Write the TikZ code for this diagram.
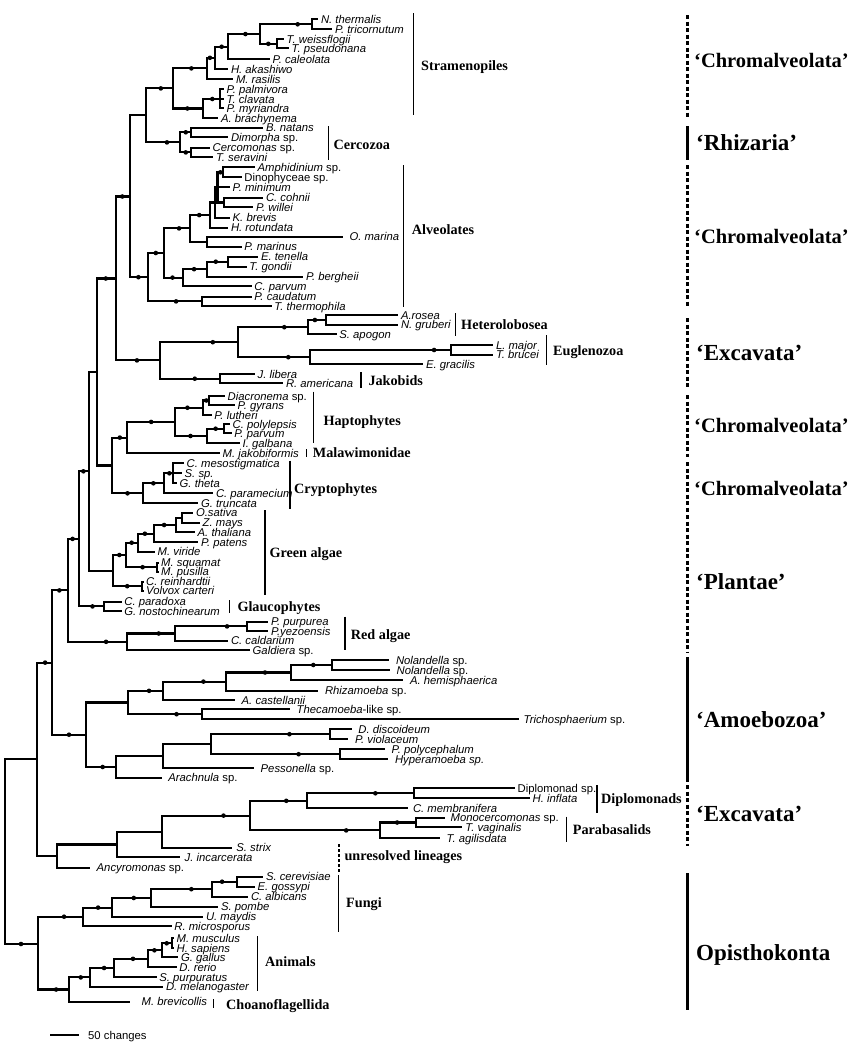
\documentclass[tikz,border=0pt]{standalone}
\usepackage{fontspec}
\setmainfont{Liberation Serif}
\setsansfont{Liberation Sans}
\newcommand\Ti[1]{\textit{#1}}
\newcommand\Lf[5][0]{\coordinate (#2) at (#3,#4); \node[sp,xshift=#1pt] (#2-t) at (#2) {#5};}
\newcommand\Nd[3]{\coordinate (#1) at (#2,#3);}
\newcommand\Ed[2]{\draw[br] (#1) |- (#2);}
\newcommand\Ep[3]{\draw[br] (#1) |- (#2) node[dot,pos=#3]{};}
\begin{document}
\begin{tikzpicture}[x=1pt,y=-1pt,
 br/.style={line width=2.1pt},
 dot/.style={circle,fill=black,inner sep=0pt,minimum size=4.6pt},
 sp/.style={anchor=base west,inner sep=0pt,xshift=2.5pt,yshift=-4pt,font=\sffamily\fontsize{11.3}{12}\selectfont},
 grp/.style={anchor=base west,inner sep=0pt,yshift=-4.8pt,font=\rmfamily\bfseries\fontsize{14.2}{15}\selectfont},
 gbar/.style={line width=1.3pt},
 big/.style={anchor=base west,inner sep=0pt,yshift=-7.5pt,font=\rmfamily\bfseries\fontsize{23}{25}\selectfont},
 bigc/.style={anchor=base west,inner sep=0pt,yshift=-7pt,font=\rmfamily\bfseries\fontsize{20.5}{22}\selectfont},
 rsolid/.style={line width=3pt},
 rdot/.style={line width=3pt,dash pattern=on 4pt off 2.5pt},
 udot/.style={line width=1.4pt,dash pattern=on 3pt off 2pt}]
\useasboundingbox (0,0) rectangle (861,1050);
% ---------- internal nodes ----------
\Nd{R}{5}{851}
\Nd{N1}{36.7}{759.4} \Nd{F0}{38.3}{944}
\Nd{A0}{52.3}{662.6} \Nd{Ex}{56.7}{856.1}
\Nd{P0}{68.3}{590.4} \Nd{Am}{85.7}{734.7}
\Nd{P1}{79}{538.9} \Nd{RA}{127.3}{641.8}
\Nd{P2}{89}{471.3} \Nd{GL}{104}{606.4}
\Nd{P3}{96.7}{372} \Nd{GA}{112.7}{570.6}
\Nd{P4}{115.7}{278.5} \Nd{HC}{111.7}{465.5}
\Nd{P5}{130}{196.5} \Nd{X1}{160}{360.4}
\Nd{SC}{145.7}{115.4} \Nd{AL}{148.3}{277.2}
% Stramenopiles / Cercozoa
\Nd{ST}{172.7}{88.4} \Nd{S1}{207.3}{68.4} \Nd{S3}{215}{57.8} \Nd{S4}{228.3}{46.75}
\Nd{S5}{260}{34.05} \Nd{S6}{312.3}{24.3} \Nd{S7}{276.7}{43.8} \Nd{S2}{203.3}{108.5} \Nd{S8}{220}{99}
\Nd{CE}{180}{142.4} \Nd{C1}{190.7}{132.3} \Nd{C2}{190.7}{152.4}
% Alveolates
\Nd{A1}{164}{253} \Nd{A2}{190}{228.4} \Nd{A3}{206.7}{241.7} \Nd{D0}{210}{215.1} \Nd{D1}{215}{202.5}
\Nd{D2}{217.5}{187.3} \Nd{AD}{223.3}{172.3} \Nd{CP}{224.3}{202.5} \Nd{A5}{183.3}{277.6}
\Nd{A6}{206.7}{269.2} \Nd{A7}{228.3}{261.7} \Nd{A9}{201.7}{301.4}
% Excavata 1
\Nd{X2}{237.7}{342.2} \Nd{HT}{308.3}{327.2} \Nd{HT1}{325.7}{320} \Nd{EU}{310}{357.2} \Nd{EU1}{451}{350} \Nd{JK}{220}{378.7}
% Haptophytes / Cryptophytes
\Nd{HM}{127.3}{437.6} \Nd{HP}{175}{421.9} \Nd{H3}{203.3}{407.75} \Nd{H4}{209.3}{400.5} \Nd{H5}{207.3}{436} \Nd{H6}{224}{428.7}
\Nd{CR}{143.3}{493.3} \Nd{C1r}{164.3}{483.3} \Nd{C2r}{173.3}{473.3}
% Green algae, glaucophytes, red algae
\Nd{G1}{126}{555} \Nd{G2}{138.3}{542.7} \Nd{G3}{154}{533.7} \Nd{G3a}{176}{525} \Nd{G3b}{181.7}{517.7}
\Nd{G4}{156.7}{567.2} \Nd{G5}{141.7}{586.2}
\Nd{R1}{175}{633.5} \Nd{R2}{247.3}{626.4}
% Amoebozoa
\Nd{M1}{127.7}{702.5} \Nd{M2}{163.3}{690.8} \Nd{M3}{226}{681.6} \Nd{M4}{291}{672.5} \Nd{M5}{332.3}{665}
\Nd{M6}{201.7}{714.2} \Nd{M7}{116}{767} \Nd{M8}{163.3}{756.2} \Nd{M9}{210.7}{744.2} \Nd{M10}{330}{734.2} \Nd{M11}{340}{754.2}
% Excavata 2
\Nd{E1}{117}{844.5} \Nd{E2}{161.7}{831.6} \Nd{E3}{250}{815.6} \Nd{E4}{306.7}{800.8} \Nd{E5}{414}{793.3}
\Nd{E6}{380}{830.4} \Nd{E7}{415.7}{822.5}
% Opisthokonta
\Nd{FU}{82.7}{916.7} \Nd{F1}{112.3}{907.6} \Nd{F2}{150.7}{898} \Nd{F3}{212.3}{889.2} \Nd{F4}{236.7}{881.7}
\Nd{AN}{69}{989.5} \Nd{A1n}{90}{977.4} \Nd{A2n}{114.3}{968} \Nd{A3n}{147.7}{958.8} \Nd{A4n}{162.3}{950.3} \Nd{A5n}{172.3}{943.3}
% ---------- leaves ----------
\Lf{nth}{318.3}{19.3}{\Ti{N. thermalis}}
\Lf{ptr}{332.3}{29.3}{\Ti{P. tricornutum}}
\Lf{twe}{284}{39.3}{\Ti{T. weissflogii}}
\Lf{tps}{289}{48.3}{\Ti{T. pseudonana}}
\Lf{pca}{270}{59.3}{\Ti{P. caleolata}}
\Lf{hak}{228.3}{69}{\Ti{H. akashiwo}}
\Lf{mra}{233.3}{79}{\Ti{M. rasilis}}
\Lf{ppa}{224}{89.3}{\Ti{P. palmivora}}
\Lf{tcl}{224}{99}{\Ti{T. clavata}}
\Lf{pmy}{224}{108.3}{\Ti{P. myriandra}}
\Lf{abr}{218.3}{118.3}{\Ti{A. brachynema}}
\Lf{bna}{263.3}{127.7}{\Ti{B. natans}}
\Lf{dim}{228.3}{137}{\Ti{Dimorpha} sp.}
\Lf{cer}{210}{147.6}{\Ti{Cercomonas} sp.}
\Lf{tse}{213.3}{157}{\Ti{T. seravini}}
\Lf{amp}{255}{167.3}{\Ti{Amphidinium} sp.}
\Lf{din}{241.7}{177.3}{Dinophyceae sp.}
\Lf{pmi}{230}{187.3}{\Ti{P. minimum}}
\Lf{cco}{263.3}{197.7}{\Ti{C. cohnii}}
\Lf{pwi}{253.3}{207.3}{\Ti{P. willei}}
\Lf{kbr}{230}{217.7}{\Ti{K. brevis}}
\Lf{hro}{228.3}{227.7}{\Ti{H. rotundata}}
\Lf[3.5]{oma}{343.3}{236.7}{\Ti{O. marina}}
\Lf{pmr}{241.7}{246.7}{\Ti{P. marinus}}
\Lf{ete}{258.3}{256.7}{\Ti{E. tenella}}
\Lf{tgo}{246.7}{266.7}{\Ti{T. gondii}}
\Lf{pbe}{303.3}{276.7}{\Ti{P. bergheii}}
\Lf{cpv}{251.7}{286}{\Ti{C. parvum}}
\Lf{pcd}{251.7}{296.7}{\Ti{P. caudatum}}
\Lf{tth}{271.7}{306}{\Ti{T. thermophila}}
\Lf{aro}{398.3}{315.2}{\Ti{A.rosea}}
\Lf{ngr}{398.3}{324.8}{\Ti{N. gruberi}}
\Lf{sap}{336.7}{334.3}{\Ti{S. apogon}}
\Lf{lma}{493.3}{345.2}{\Ti{L. major}}
\Lf{tbr}{493.3}{354.8}{\Ti{T. brucei}}
\Lf{egr}{423.3}{364.3}{\Ti{E. gracilis}}
\Lf{jli}{255}{374}{\Ti{J. libera}}
\Lf{ram}{283.3}{383.3}{\Ti{R. americana}}
\Lf{dia}{225}{396}{\Ti{Diacronema} sp.}
\Lf{pgy}{235}{405}{\Ti{P. gyrans}}
\Lf{plu}{211.7}{415}{\Ti{P. lutheri}}
\Lf{cpo}{230}{424}{\Ti{C. polylepsis}}
\Lf{ppv}{231.7}{433.3}{\Ti{P. parvum}}
\Lf{iga}{240}{443.3}{\Ti{I. galbana}}
\Lf{mja}{220}{453.3}{\Ti{M. jakobiformis}}
\Lf{cme}{184}{463.3}{\Ti{C. mesostigmatica}}
\Lf{ssp}{182}{473.3}{\Ti{S. sp.}}
\Lf{gth}{177}{483.3}{\Ti{G. theta}}
\Lf{cpa}{213.3}{493.3}{\Ti{C. paramecium}}
\Lf{gtr}{198.3}{503.3}{\Ti{G. truncata}}
\Lf{osa}{193.3}{512.7}{\Ti{O.sativa}}
\Lf{zma}{200}{522.7}{\Ti{Z. mays}}
\Lf{ath}{195}{532.3}{\Ti{A. thaliana}}
\Lf{ppt}{198.3}{542.3}{\Ti{P. patens}}
\Lf{mvi}{155}{551.7}{\Ti{M. viride}}
\Lf{msq}{158.5}{562.7}{\Ti{M. squamat}}
\Lf{mpu}{158.5}{571.7}{\Ti{M. pusilla}}
\Lf{cre}{143.5}{581.7}{\Ti{C. reinhardtii}}
\Lf{vca}{143.5}{590.7}{\Ti{Volvox carteri}}
\Lf{cpx}{121.7}{601.7}{\Ti{C. paradoxa}}
\Lf{gno}{121.7}{611}{\Ti{G. nostochinearum}}
\Lf{ppu}{268.3}{621.7}{\Ti{P. purpurea}}
\Lf{pye}{268.3}{631}{\Ti{P.yezoensis}}
\Lf{cca}{228.3}{640.7}{\Ti{C. caldarium}}
\Lf{gal}{250}{650}{\Ti{Galdiera} sp.}
\Lf[4]{no1}{389.3}{660}{\Ti{Nolandella} sp.}
\Lf[4]{no2}{390}{670}{\Ti{Nolandella} sp.}
\Lf[4]{ahe}{403.3}{680}{\Ti{A. hemisphaerica}}
\Lf[4]{rhi}{318.3}{690.7}{\Ti{Rhizamoeba} sp.}
\Lf[4]{aca}{235}{700}{\Ti{A. castellanii}}
\Lf[4]{the}{290}{709.3}{\Ti{Thecamoeba}-like sp.}
\Lf[2]{tri}{519}{719}{\Ti{Trichosphaerium} sp.}
\Lf[4]{ddi}{351.7}{729.3}{\Ti{D. discoideum}}
\Lf[4]{pvi}{348.3}{739}{\Ti{P. violaceum}}
\Lf[4]{ppo}{385}{749.3}{\Ti{P. polycephalum}}
\Lf[4]{hyp}{388.3}{759}{\Ti{Hyperamoeba sp.}}
\Lf[4]{pes}{254}{768.3}{\Ti{Pessonella} sp.}
\Lf[4]{ara}{161.7}{777.7}{\Ti{Arachnula} sp.}
\Lf{dip}{515}{788.3}{Diplomonad sp.}
\Lf{hin}{530}{798.3}{\Ti{H. inflata}}
\Lf[2]{cmb}{408.3}{808.3}{\Ti{C. membranifera}}
\Lf[3]{mon}{445}{817.7}{\Ti{Monocercomonas} sp.}
\Lf[1]{tva}{461.7}{827.3}{\Ti{T. vaginalis}}
\Lf[4]{tag}{440}{838.3}{\Ti{T. agilisdata}}
\Lf[2]{sst}{231.7}{847.7}{\Ti{S. strix}}
\Lf[2]{jin}{180}{857.3}{\Ti{J. incarcerata}}
\Lf[4]{anc}{90}{867.7}{\Ti{Ancyromonas} sp.}
\Lf{sce}{263.3}{876.7}{\Ti{S. cerevisiae}}
\Lf{ego}{255}{886.7}{\Ti{E. gossypi}}
\Lf{cal}{248.3}{896.7}{\Ti{C. albicans}}
\Lf{spo}{218.3}{906.7}{\Ti{S. pombe}}
\Lf{uma}{203.3}{916.8}{\Ti{U. maydis}}
\Lf{rmi}{171.7}{926.2}{\Ti{R. microsporus}}
\Lf{mmu}{174}{938.3}{\Ti{M. musculus}}
\Lf{hsa}{174}{948.3}{\Ti{H. sapiens}}
\Lf{gga}{178.3}{957.3}{\Ti{G. gallus}}
\Lf{dre}{176.7}{967.3}{\Ti{D. rerio}}
\Lf{spu}{156.7}{977.3}{\Ti{S. purpuratus}}
\Lf{dme}{163.3}{986.7}{\Ti{D. melanogaster}}
\Lf[9]{mbr}{130}{1001.7}{\Ti{M. brevicollis}}
% ---------- edges ----------
\Ed{R}{N1} \Ep{R}{F0}{.74}
\Ep{N1}{A0}{.77} \Ed{N1}{Ex}
\Ep{A0}{P0}{.72} \Ep{A0}{Am}{.75}
\Ep{P0}{P1}{.70} \Ep{P0}{RA}{.82}
\Ep{P1}{P2}{.72} \Ep{P1}{GL}{.77}
\Ed{P2}{P3} \Ed{P2}{GA}
\Ep{P3}{P4}{.74} \Ed{P3}{HC}
\Ep{P4}{P5}{.73} \Ep{P4}{X1}{.74}
\Ed{P5}{SC} \Ep{P5}{AL}{.73}
% Stramenopiles
\Ep{SC}{ST}{.78} \Ep{SC}{CE}{.81}
\Ep{ST}{S1}{.77} \Ep{ST}{S2}{.74}
\Ep{S1}{S3}{.67} \Ed{S1}{mra}
\Ep{S3}{S4}{.75} \Ed{S3}{hak}
\Ep{S4}{S5}{.77} \Ed{S4}{pca}
\Ep{S5}{S6}{.86} \Ep{S5}{S7}{.75}
\Ed{S6}{nth} \Ed{S6}{ptr} \Ed{S7}{twe} \Ed{S7}{tps}
\Ep{S2}{S8}{.77} \Ed{S2}{abr}
\Ed{S8}{ppa} \Ed{S8}{tcl} \Ed{S8}{pmy}
\Ep{CE}{C1}{.77} \Ep{CE}{C2}{.77}
\Ed{C1}{bna} \Ed{C1}{dim} \Ed{C2}{cer} \Ed{C2}{tse}
% Alveolates
\Ep{AL}{A1}{.74} \Ep{AL}{A9}{.76}
\Ed{A9}{pcd} \Ed{A9}{tth}
\Ep{A1}{A2}{.79} \Ep{A1}{A5}{.72}
\Ep{A2}{D0}{.73} \Ed{A2}{A3}
\Ed{A3}{oma} \Ed{A3}{pmr}
\Ed{D0}{D1} \Ed{D0}{hro}
\Ed{D1}{D2} \Ed{D1}{kbr}
\Ep{D2}{AD}{.75} \Ed{D2}{pmi} \Ed{D2}{CP}
\Ed{AD}{amp} \Ed{AD}{din} \Ed{CP}{cco} \Ed{CP}{pwi}
\Ep{A5}{A6}{.73} \Ed{A5}{cpv}
\Ep{A6}{A7}{.71} \Ed{A6}{pbe}
\Ed{A7}{ete} \Ed{A7}{tgo}
% Excavata 1
\Ep{X1}{X2}{.84} \Ep{X1}{JK}{.79}
\Ep{X2}{HT}{.83} \Ep{X2}{EU}{.85}
\Ep{HT}{HT1}{.69} \Ed{HT}{sap}
\Ed{HT1}{aro} \Ed{HT1}{ngr}
\Ep{EU}{EU1}{.94} \Ed{EU}{egr}
\Ed{EU1}{lma} \Ed{EU1}{tbr}
\Ed{JK}{jli} \Ed{JK}{ram}
% Haptophytes
\Ep{HC}{HM}{.76} \Ep{HC}{CR}{.75}
\Ep{HM}{HP}{.75} \Ed{HM}{mja}
\Ep{HP}{H3}{.72} \Ep{HP}{H5}{.74}
\Ep{H3}{H4}{.75} \Ed{H3}{plu}
\Ed{H4}{dia} \Ed{H4}{pgy}
\Ep{H5}{H6}{.75} \Ed{H5}{iga}
\Ed{H6}{cpo} \Ed{H6}{ppv}
% Cryptophytes
\Ep{CR}{C1r}{.74} \Ed{CR}{gtr}
\Ep{C1r}{C2r}{.78} \Ed{C1r}{cpa}
\Ed{C2r}{cme} \Ed{C2r}{ssp} \Ed{C2r}{gth}
% Green algae
\Ep{GA}{G1}{.75} \Ep{GA}{G5}{.75}
\Ep{G1}{G2}{.73} \Ep{G1}{G4}{.77}
\Ep{G2}{G3}{.71} \Ed{G2}{mvi}
\Ep{G3}{G3a}{.73} \Ed{G3}{ppt}
\Ed{G3a}{G3b} \Ed{G3a}{ath}
\Ed{G3b}{osa} \Ed{G3b}{zma}
\Ed{G4}{msq} \Ed{G4}{mpu}
\Ed{G5}{cre} \Ed{G5}{vca}
\Ed{GL}{cpx} \Ed{GL}{gno}
% Red algae
\Ep{RA}{R1}{.83} \Ed{RA}{gal}
\Ep{R1}{R2}{.86} \Ed{R1}{cca}
\Ed{R2}{ppu} \Ed{R2}{pye}
% Amoebozoa
\Ed{Am}{M1} \Ep{Am}{M7}{.78}
\Ep{M1}{M2}{.80} \Ep{M1}{M6}{.83}
\Ep{M2}{M3}{.82} \Ed{M2}{aca}
\Ep{M3}{M4}{.80} \Ed{M3}{rhi}
\Ep{M4}{M5}{.77} \Ed{M4}{ahe}
\Ed{M5}{no1} \Ed{M5}{no2}
\Ed{M6}{the} \Ed{M6}{tri}
\Ed{M7}{M8} \Ed{M7}{ara}
\Ed{M8}{M9} \Ed{M8}{pes}
\Ep{M9}{M10}{.83} \Ep{M9}{M11}{.84}
\Ed{M10}{ddi} \Ed{M10}{pvi}
\Ed{M11}{ppo} \Ed{M11}{hyp}
% Excavata 2
\Ed{Ex}{E1} \Ed{Ex}{anc}
\Ed{E1}{E2} \Ed{E1}{jin}
\Ep{E2}{E3}{.85} \Ed{E2}{sst}
\Ep{E3}{E4}{.82} \Ep{E3}{E6}{.87}
\Ep{E4}{E5}{.82} \Ed{E4}{cmb}
\Ed{E5}{dip} \Ed{E5}{hin}
\Ep{E6}{E7}{.74} \Ed{E6}{tag}
\Ed{E7}{mon} \Ed{E7}{tva}
% Opisthokonta
\Ep{F0}{FU}{.79} \Ep{F0}{AN}{.79}
\Ep{FU}{F1}{.76} \Ed{FU}{rmi}
\Ep{F1}{F2}{.78} \Ed{F1}{uma}
\Ep{F2}{F3}{.83} \Ed{F2}{spo}
\Ep{F3}{F4}{.70} \Ed{F3}{cal}
\Ed{F4}{sce} \Ed{F4}{ego}
\Ep{AN}{A1n}{.78} \Ed{AN}{mbr}
\Ep{A1n}{A2n}{.79} \Ed{A1n}{dme}
\Ep{A2n}{A3n}{.78} \Ed{A2n}{spu}
\Ep{A3n}{A4n}{.73} \Ed{A3n}{dre}
\Ep{A4n}{A5n}{.72} \Ed{A4n}{gga}
\Ed{A5n}{mmu} \Ed{A5n}{hsa}
% ---------- group labels ----------
\draw[gbar] (413.3,13.3) -- (413.3,115); \node[grp] (gStr) at (421,66) {Stramenopiles};
\draw[gbar] (328.3,126) -- (328.3,160); \node[grp] (gCer) at (333.3,145) {Cercozoa};
\draw[gbar] (403.3,165) -- (403.3,306.7); \node[grp] (gAlv) at (411.7,230) {Alveolates};
\draw[gbar] (455.7,313.3) -- (455.7,336); \node[grp] (gHet) at (461,324.3) {Heterolobosea};
\draw[gbar] (546.7,335) -- (546.7,365); \node[grp] (gEug) at (553,351) {Euglenozoa};
\draw[gbar] (361,372.3) -- (361,388.3); \node[grp] (gJak) at (368.3,381) {Jakobids};
\draw[gbar] (313.3,391.7) -- (313.3,443); \node[grp] (gHap) at (323.3,421) {Haptophytes};
\draw[gbar] (306.7,449.3) -- (306.7,457.3); \node[grp] (gMal) at (312.7,453) {Malawimonidae};
\draw[gbar] (290,460.7) -- (290,509.3); \node[grp] (gCry) at (294,488.3) {Cryptophytes};
\draw[gbar] (265,510) -- (265,595); \node[grp] (gGre) at (269.3,552.3) {Green algae};
\draw[gbar] (229.3,600) -- (229.3,612.7); \node[grp] (gGla) at (237.3,606.7) {Glaucophytes};
\draw[gbar] (345,616.7) -- (345,650); \node[grp] (gRed) at (350.7,634.3) {Red algae};
\draw[gbar] (597,785) -- (597,813.3); \node[grp] (gDip) at (601,798.3) {Diplomonads};
\draw[gbar] (566.7,816.7) -- (566.7,841.7); \node[grp] (gPar) at (572.7,829.3) {Parabasalids};
\draw[udot] (339,844) -- (339,872); \node[grp] (gUnr) at (344.3,856) {unresolved lineages};
\draw[gbar] (338.3,875) -- (338.3,931.7); \node[grp] (gFun) at (346,903) {Fungi};
\draw[gbar] (257.3,936) -- (257.3,990.7); \node[grp] (gAni) at (265,961.7) {Animals};
\draw[gbar] (213.3,999.3) -- (213.3,1007.7); \node[grp] (gCho) at (226,1004.3) {Choanoflagellida};
% ---------- supergroups ----------
\draw[rdot] (687,15) -- (687,118); \node[bigc] (b1) at (694,60) {‘Chromalveolata’};
\draw[rsolid] (687,126) -- (687,160); \node[big] (b2) at (696,143) {‘Rhizaria’};
\draw[rdot] (687,165) -- (687,307); \node[bigc] (b3) at (694,236) {‘Chromalveolata’};
\draw[rdot] (687,318) -- (687,388); \node[big] (b4) at (696,353) {‘Excavata’};
\draw[rdot] (687,395) -- (687,457); \node[bigc] (b5) at (694,425) {‘Chromalveolata’};
\draw[rdot] (687,462) -- (687,512); \node[bigc] (b6) at (694,488) {‘Chromalveolata’};
\draw[rdot] (687,515) -- (687,652); \node[big] (b7) at (696,582) {‘Plantae’};
\draw[rsolid] (687,657) -- (687,782); \node[big] (b8) at (696,720) {‘Amoebozoa’};
\draw[rdot] (687,785) -- (687,846); \node[big] (b9) at (696,814) {‘Excavata’};
\draw[rsolid] (687,873) -- (687,1010); \node[big] (b10) at (696,953) {Opisthokonta};
% ---------- scale bar ----------
\coordinate (sb1) at (50,1035); \coordinate (sb2) at (79,1035);
\draw[br] (sb1) -- (sb2);
\node[sp,xshift=6.5pt] (sbl) at (sb2) {50 changes};
\end{tikzpicture}
\end{document}
